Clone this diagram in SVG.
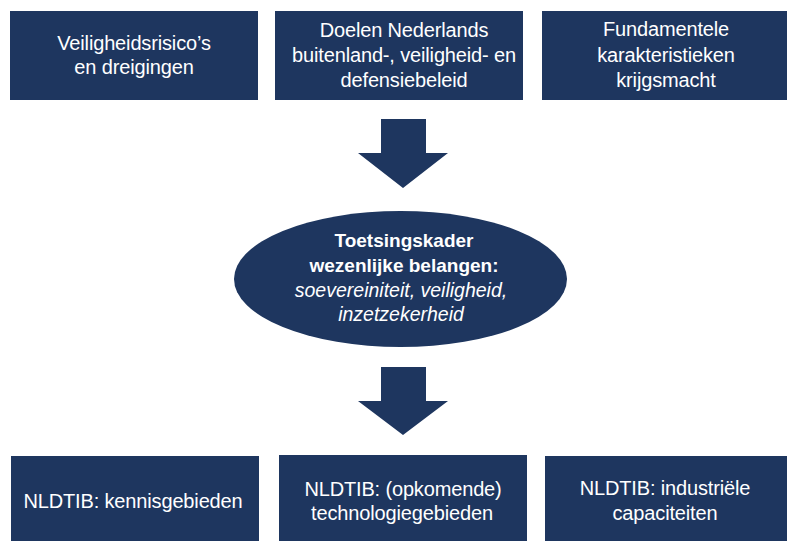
<svg xmlns="http://www.w3.org/2000/svg" width="787" height="541" viewBox="0 0 787 541">
<style>
.box{fill:#1e365f}
.t{fill:#ffffff;font-family:"Liberation Sans",Arial,sans-serif;font-size:20px;text-anchor:middle;letter-spacing:-0.15px}
.b{fill:#ffffff;font-family:"Liberation Sans",Arial,sans-serif;font-size:19px;font-weight:bold;text-anchor:middle}
.i{fill:#ffffff;font-family:"Liberation Sans",Arial,sans-serif;font-size:19.5px;font-style:italic;text-anchor:middle}
.arrow{fill:#1e365f}
</style>
<rect width="787" height="541" fill="#ffffff"/>
<g id="node-risks">
<rect class="box" x="10" y="11" width="248" height="89"/>
<text class="t" x="134" y="50">Veiligheidsrisico’s</text>
<text class="t" x="134" y="74">en dreigingen</text>
</g>
<g id="node-goals">
<rect class="box" x="275" y="11" width="248" height="89"/>
<text class="t" x="404" y="37">Doelen Nederlands</text>
<text class="t" x="404" y="62">buitenland-, veiligheid- en</text>
<text class="t" x="404" y="87">defensiebeleid</text>
</g>
<g id="node-characteristics">
<rect class="box" x="542" y="11" width="245" height="89"/>
<text class="t" x="666" y="36">Fundamentele</text>
<text class="t" x="666" y="62">karakteristieken</text>
<text class="t" x="666" y="87">krijgsmacht</text>
</g>
<g id="node-framework">
<ellipse class="box" cx="400.5" cy="279" rx="166.5" ry="68"/>
<text class="b" x="404" y="247">Toetsingskader</text>
<text class="b" x="404" y="272">wezenlijke belangen:</text>
<text class="i" x="401" y="297">soevereiniteit, veiligheid,</text>
<text class="i" x="401" y="321">inzetzekerheid</text>
</g>
<g id="node-knowledge">
<rect class="box" x="11" y="456" width="248" height="85"/>
<text class="t" x="133" y="508">NLDTIB: kennisgebieden</text>
</g>
<g id="node-technology">
<rect class="box" x="279" y="455" width="248" height="86"/>
<text class="t" x="403" y="496">NLDTIB: (opkomende)</text>
<text class="t" x="402" y="520">technologiegebieden</text>
</g>
<g id="node-industrial">
<rect class="box" x="545" y="456" width="242" height="85"/>
<text class="t" x="665" y="495">NLDTIB: industriële</text>
<text class="t" x="665" y="520">capaciteiten</text>
</g>
<g id="connectors">
<polygon class="arrow" points="381,119 426,119 426,153 448,153 403,188 358,153 381,153"/>
<polygon class="arrow" points="381,367 426,367 426,401 448,401 403,435 358,401 381,401"/>
</g>
</svg>
